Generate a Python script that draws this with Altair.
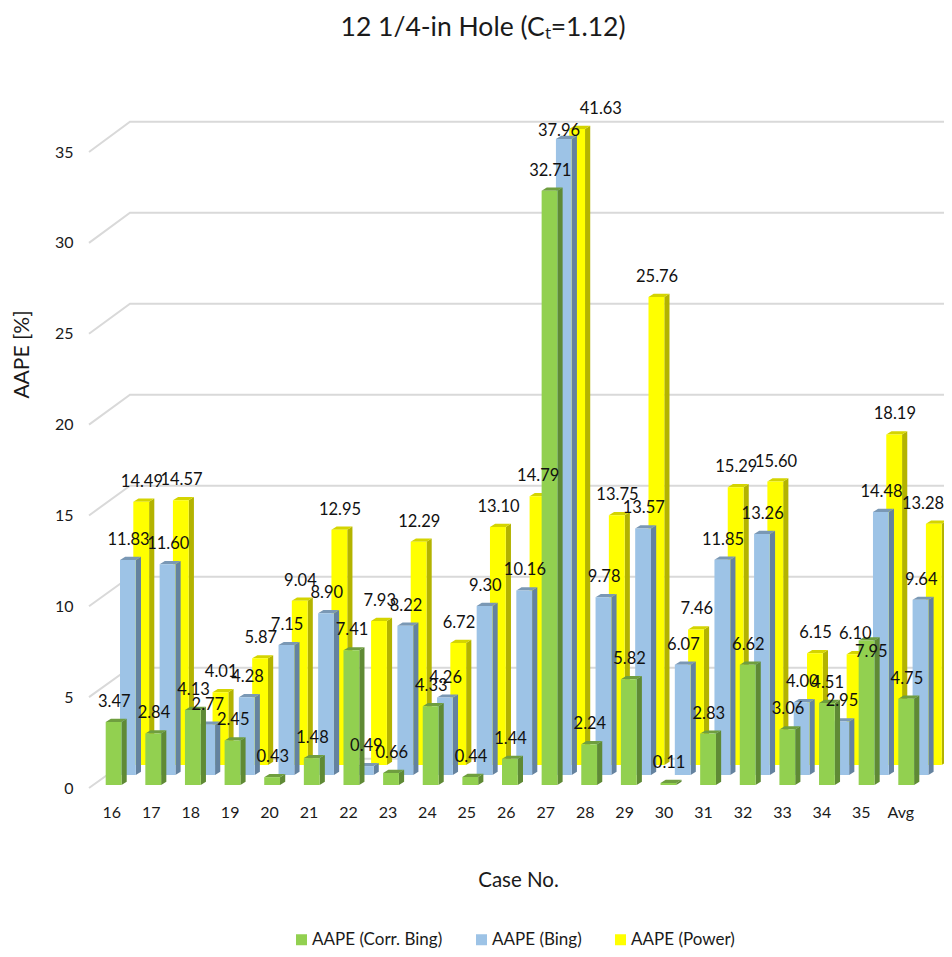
import altair as alt
import pandas as pd

cases = ["16","17","18","19","20","21","22","23","24","25","26","27","28","29","30","31","32","33","34","35","Avg"]
corr_bing = [3.47,2.84,4.13,2.45,0.43,1.48,7.41,0.66,4.33,0.44,1.44,32.71,2.24,5.82,0.11,2.83,6.62,3.06,4.51,7.95,4.75]
bing = [11.83,11.60,2.77,4.28,7.15,8.90,0.49,8.22,4.26,9.30,10.16,37.96,9.78,13.57,6.07,11.85,13.26,4.00,2.95,14.48,9.64]
power = [14.49,14.57,4.01,5.87,9.04,12.95,7.93,12.29,6.72,13.10,14.79,41.63,13.75,25.76,7.46,15.29,15.60,6.15,6.10,18.19,13.28]
series_names = ["AAPE (Corr. Bing)", "AAPE (Bing)", "AAPE (Power)"]
front_colors = ["#92d050", "#9dc3e6", "#ffff00"]
side_colors = ["#5f8a35", "#64829f", "#b3b300"]
top_colors = ["#6f9e3f", "#7a98b5", "#d4d400"]
ticks = [0,5,10,15,20,25,30,35]
AXIS_MAX = 35

# layout (page pixels)
PL, PT, PB, PR = 84, 100, 788, 944
PXV = 18.17
CAT0, CATW = 111.3, 39.45
BAR0 = [105.7, 120.0, 133.3]
BARSTEP = 39.63
BARW = 15.8
BASE_PX = [785.0, 775.0, 765.0]
DX, DY = 5.2, 3.2
WALL_X, WALL0, WALLV = 130.0, 758.7, 18.2
FONT = "Lato"

def ux(px): return (px - CAT0) / CATW
def uy(px): return (PB - px) / PXV
XMIN, XMAX = ux(PL), ux(PR)
YMAX = uy(PT)
xs = alt.Scale(domain=[XMIN, XMAX], nice=False, zero=False)
ys = alt.Scale(domain=[0, YMAX], nice=False, zero=False)

# per-label nudges (series, case index): dx, dy px — bars cut by the axis limit, labels placed apart, and the last label at the page edge
nudge = {(2, 11): (23, 0), (1, 11): (-5.5, 12), (2, 20): (-11.5, 0), (0, 19): (4, 31)}

fronts, sides, tops, labels = [], [], [], []
for s, vals in enumerate([corr_bing, bing, power]):
    for i, v in enumerate(vals):
        shown = min(v, AXIS_MAX)
        x0 = BAR0[s] + BARSTEP * i
        x1 = x0 + BARW
        base = BASE_PX[s]
        top = base - shown * PXV
        fronts.append(dict(s=s, series=series_names[s], x=ux(x0), x2=ux(x1), y=uy(base), y2=uy(top)))
        for px, lo, hi in [(x1, base, top), (x1 + DX, base - DY, top - DY)]:
            sides.append(dict(s=s, id=i, x=ux(px), y=uy(lo), y2=uy(hi)))
        for px, lo, hi in [(x0, top, top), (x0 + DX, top, top - DY), (x1, top, top - DY), (x1 + DX, top - DY, top - DY)]:
            tops.append(dict(s=s, id=i, x=ux(px), y=uy(lo), y2=uy(hi)))
        ndx, ndy = nudge.get((s, i), (0, 0))
        labels.append(dict(x=ux((x0 + x1) / 2 + 0.7 + ndx), y=uy(top - 20 + ndy), text=f"{v:.2f}"))

fronts, sides, tops, labels = map(pd.DataFrame, (fronts, sides, tops, labels))

grid = []
for v in ticks:
    wall = WALL0 - WALLV * v
    grid.append(dict(v=v, x=ux(89), y=v, o=0))
    grid.append(dict(v=v, x=ux(WALL_X), y=uy(wall), o=1))
    grid.append(dict(v=v, x=XMAX, y=uy(wall), o=2))
grid = pd.DataFrame(grid)

expr = "[" + ",".join(f"'{c}'" for c in cases) + "][datum.value]"
x_axis = alt.Axis(values=list(range(len(cases))), labelExpr=expr, domain=False, ticks=False, grid=False,
                  labelPadding=24, labelBaseline="middle", labelFont=FONT, labelFontSize=16, labelColor="#1a1a1a",
                  labelOverlap=False, labelFlush=False,
                  title="Case No.", titleFont=FONT, titleFontSize=20.5, titleFontWeight="normal", titleColor="#1a1a1a",
                  titleX=518 - PL, titleY=880 - PB, titleAlign="center", titleBaseline="middle")
y_axis = alt.Axis(values=ticks, domain=False, ticks=False, grid=False, labelPadding=11,
                  labelFont=FONT, labelFontSize=16, labelColor="#1a1a1a", labelBaseline="middle",
                  title="AAPE [%]", titleFont=FONT, titleFontSize=21, titleFontWeight="normal", titleColor="#1a1a1a",
                  titleX=22 - PL, titleY=354 - PT, titleAngle=270, titleAlign="center", titleBaseline="middle")

X = alt.X("x:Q", scale=xs, axis=x_axis)
Y = alt.Y("y:Q", scale=ys, axis=y_axis)

gridlayer = alt.Chart(grid).mark_line(color="#d9d9d9", strokeWidth=2, interpolate="linear").encode(
    x=X, y=Y, detail="v:N", order="o:Q")

colour = alt.Color("series:N", scale=alt.Scale(domain=series_names, range=front_colors),
                   legend=alt.Legend(orient="none", legendX=293 - PL, legendY=931 - PT, direction="horizontal",
                                     columns=3, title=None, symbolType="square", symbolSize=121, symbolStrokeWidth=0,
                                     labelFont=FONT, labelFontSize=17, labelColor="#1a1a1a", labelOffset=2,
                                     columnPadding=30, padding=0, labelLimit=300))

layers = [gridlayer]
for s in [2, 1, 0]:
    front = alt.Chart(fronts[fronts.s == s]).mark_rect(strokeWidth=0).encode(
        x=X, x2="x2:Q", y=Y, y2="y2:Q", color=colour)
    side = alt.Chart(sides[sides.s == s]).mark_area(color=side_colors[s], orient="vertical").encode(
        x=X, y=Y, y2="y2:Q", detail="id:N")
    top = alt.Chart(tops[tops.s == s]).mark_area(color=top_colors[s], orient="vertical").encode(
        x=X, y=Y, y2="y2:Q", detail="id:N")
    layers += [side, top, front]

text = alt.Chart(labels).mark_text(font=FONT, fontSize=16.5, color="#111111", baseline="middle", align="center").encode(
    x=X, y=Y, text="text:N")
layers.append(text)

chart = alt.layer(*layers).properties(
    width=PR - PL, height=PB - PT,
    title=alt.TitleParams("12 1/4-in Hole (C\u209c=1.12)", font=FONT, fontSize=26.5, fontWeight="normal", color="#1a1a1a",
                          anchor="middle", frame="group", dx=483 - (PL + PR) / 2, offset=PT - 41),
    autosize=alt.AutoSizeParams(type="none"),
    padding={"left": PL - 8, "top": PT - 8, "right": 0, "bottom": 949 - PB},
).configure_view(stroke=None)

chart.save("out.html", embed_options={"renderer": "svg", "actions": False})
